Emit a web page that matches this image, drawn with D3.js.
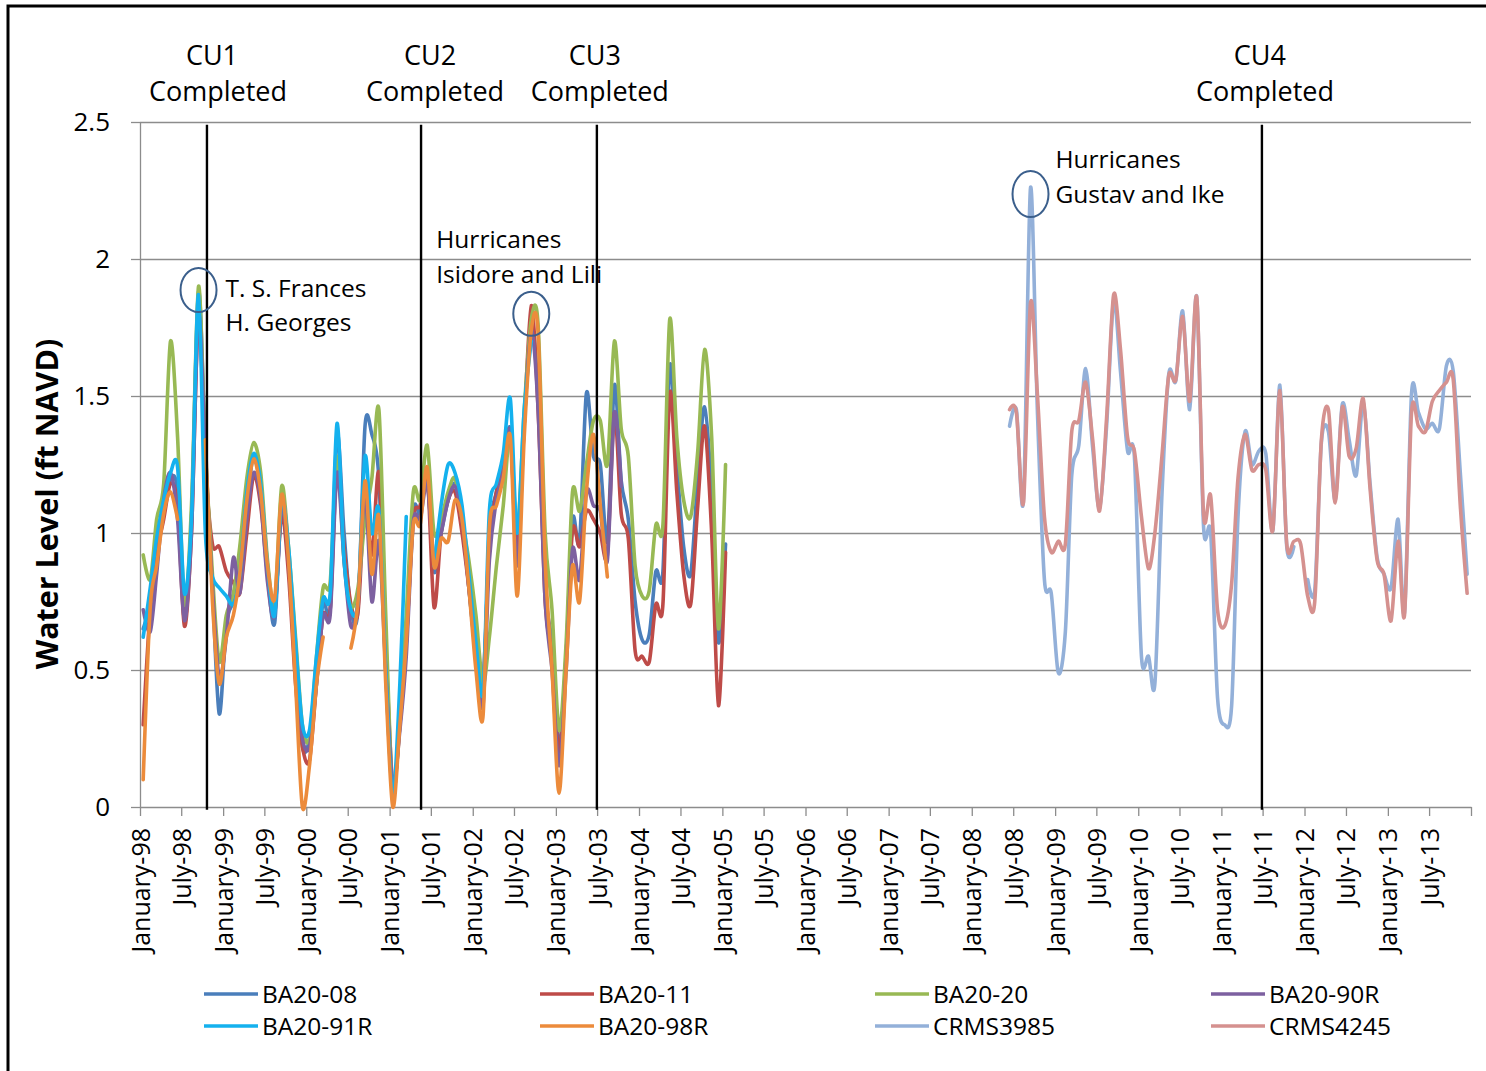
<!DOCTYPE html>
<html>
<head>
<meta charset="utf-8">
<script src="https://cdn.jsdelivr.net/npm/d3@7"></script>
<style>
  body { margin: 0; background: #ffffff; }
  text { font-family: "Open Sans", "DejaVu Sans", sans-serif; fill: #000; }
</style>
</head>
<body>
<svg id="chart" width="1486" height="1071"></svg>
<script>
// Monthly mean water levels (ft NAVD), plotted at mid-month.
const baMonths = [
  "1998-01","1998-02","1998-03","1998-04","1998-05","1998-06","1998-07","1998-08","1998-09","1998-10","1998-11","1998-12",
  "1999-01","1999-02","1999-03","1999-04","1999-05","1999-06","1999-07","1999-08","1999-09","1999-10","1999-11","1999-12",
  "2000-01","2000-02","2000-03","2000-04","2000-05","2000-06","2000-07","2000-08","2000-09","2000-10","2000-11","2000-12",
  "2001-01","2001-02","2001-03","2001-04","2001-05","2001-06","2001-07","2001-08","2001-09","2001-10","2001-11","2001-12",
  "2002-01","2002-02","2002-03","2002-04","2002-05","2002-06","2002-07","2002-08","2002-09","2002-10","2002-11","2002-12",
  "2003-01","2003-02","2003-03","2003-04","2003-05","2003-06","2003-07","2003-08","2003-09","2003-10","2003-11","2003-12",
  "2004-01","2004-02","2004-03","2004-04","2004-05","2004-06","2004-07","2004-08","2004-09","2004-10","2004-11","2004-12",
  "2005-01"
];
const crmsMonths = [
  "2008-06","2008-07","2008-08","2008-09","2008-10","2008-11","2008-12",
  "2009-01","2009-02","2009-03","2009-04","2009-05","2009-06","2009-07","2009-08","2009-09","2009-10","2009-11","2009-12",
  "2010-01","2010-02","2010-03","2010-04","2010-05","2010-06","2010-07","2010-08","2010-09","2010-10","2010-11","2010-12",
  "2011-01","2011-02","2011-03","2011-04","2011-05","2011-06","2011-07","2011-08","2011-09","2011-10","2011-11","2011-12",
  "2012-01","2012-02","2012-03","2012-04","2012-05","2012-06","2012-07","2012-08","2012-09","2012-10","2012-11","2012-12",
  "2013-01","2013-02","2013-03","2013-04","2013-05","2013-06","2013-07","2013-08","2013-09","2013-10","2013-11","2013-12"
];

const ba20_08 = [
  0.65,0.75,0.95,1.08,1.20,1.15,0.68,1.05,1.88,1.30,0.80,0.34,
  0.67,0.75,0.85,1.10,1.28,1.15,0.85,0.67,1.10,0.90,0.55,0.22,
  0.25,0.50,0.75,0.72,1.36,1.00,0.72,0.72,1.39,1.36,1.20,0.50,
  0.05,0.30,0.60,1.08,1.07,1.20,0.86,1.00,1.12,1.18,1.05,0.80,
  0.55,0.40,1.00,1.15,1.25,1.38,0.97,1.40,1.76,1.50,0.80,0.60,
  0.22,0.55,1.05,0.97,1.51,1.28,1.25,0.97,1.54,1.19,1.05,0.75,
  0.61,0.63,0.86,0.86,1.61,1.25,0.95,0.85,1.20,1.46,1.15,0.60,
  0.96
];
const ba20_11 = [
  0.30,0.72,0.92,1.05,1.18,1.10,0.66,1.00,1.80,1.25,0.96,0.95,
  0.86,0.82,0.78,1.00,1.21,1.10,0.85,0.72,1.07,0.85,0.45,0.22,
  0.17,0.45,0.70,0.72,1.25,0.95,0.74,0.71,1.12,0.92,1.22,0.60,
  0.08,0.30,0.60,1.05,1.10,1.22,0.73,1.00,1.12,1.15,1.00,0.80,
  0.58,0.46,0.95,1.15,1.25,1.37,0.92,1.40,1.83,1.45,0.75,0.55,
  0.20,0.55,1.01,0.95,1.08,1.05,1.00,0.92,1.44,1.07,0.98,0.57,
  0.55,0.53,0.74,0.74,1.51,1.15,0.85,0.74,1.10,1.39,1.00,0.37,
  0.93
];
const ba20_20 = [
  0.92,0.83,1.05,1.18,1.70,1.35,0.74,1.10,1.90,1.30,0.85,0.53,
  0.70,0.78,0.95,1.20,1.33,1.22,0.90,0.74,1.17,0.95,0.62,0.30,
  0.25,0.55,0.80,0.82,1.28,0.90,0.73,0.80,1.05,1.20,1.45,0.70,
  0.05,0.35,0.70,1.15,1.12,1.32,1.00,1.05,1.15,1.20,1.05,0.90,
  0.70,0.45,0.62,0.88,1.10,1.36,1.00,1.45,1.78,1.76,1.00,0.72,
  0.28,0.60,1.15,1.08,1.25,1.41,1.41,1.25,1.70,1.38,1.28,0.88,
  0.77,0.79,1.03,1.03,1.78,1.35,1.12,1.06,1.30,1.67,1.35,0.65,
  1.25
];
const ba20_90r = [
  0.72,0.64,0.85,1.12,1.22,1.05,0.68,1.00,1.80,1.28,0.80,0.47,
  0.62,0.91,0.78,1.05,1.22,1.12,0.82,0.70,1.10,0.90,0.50,0.25,
  0.22,0.45,0.70,0.70,1.22,0.90,0.66,0.75,1.15,0.75,0.97,0.50,
  0.08,0.28,0.55,1.04,1.05,1.18,0.90,1.00,1.12,1.17,1.05,0.80,
  0.55,0.37,0.90,1.12,1.22,1.37,0.88,1.40,1.74,1.45,0.75,0.50,
  0.15,0.50,0.94,0.83,1.15,1.10,1.08,0.90,1.44,1.17,null,null,
  null,null,null,null,null,null,null,null,null,null,null,null,
  null
];
const ba20_91r = [
  0.62,0.80,0.98,1.12,1.22,1.24,0.78,1.05,1.87,1.00,0.84,0.80,
  0.77,0.74,0.85,1.15,1.29,1.18,0.88,0.70,1.12,0.95,0.60,0.30,
  0.28,0.55,0.76,0.78,1.40,0.90,0.72,0.75,1.28,1.00,1.08,0.50,
  0.04,0.45,1.06,null,null,null,0.88,1.10,1.25,1.22,1.10,0.85,
  0.60,0.42,1.08,1.18,1.29,1.49,1.00,1.45,1.70,null,null,null,
  null,null,null,null,null,null,null,null,null,null,null,null,
  null,null,null,null,null,null,null,null,null,null,null,null,
  null
];
const ba20_98r = [
  0.10,0.73,0.88,1.07,1.15,1.05,null,null,null,1.34,0.75,0.45,
  0.62,0.70,0.85,1.12,1.27,1.15,0.88,0.76,1.14,0.90,0.45,0.00,
  0.15,0.45,0.62,null,null,null,0.58,0.75,1.19,0.85,1.06,0.45,
  0.00,0.30,0.60,1.03,1.03,1.24,0.88,0.98,0.97,1.12,1.05,0.80,
  0.50,0.33,1.02,1.10,1.20,1.35,0.77,1.35,1.74,1.73,0.90,0.50,
  0.05,0.50,0.88,0.75,1.15,1.36,1.10,0.84,null,null,null,null,
  null,null,null,null,null,null,null,null,null,null,null,null,
  null
];
const crms3985 = [
  1.39,1.45,1.12,2.26,1.45,0.83,0.78,
  0.49,0.64,1.21,1.32,1.60,1.31,1.09,1.39,1.85,1.59,1.30,1.28,
  0.55,0.55,0.45,1.14,1.58,1.555,1.81,1.45,1.86,1.02,1.00,0.40,
  0.30,0.37,1.06,1.37,1.25,1.30,1.29,1.01,1.54,0.95,0.95,null,
  0.83,0.79,1.33,1.37,1.12,1.47,1.34,1.21,1.48,1.18,0.91,0.85,
  0.80,1.05,0.71,1.51,1.44,1.38,1.40,1.38,1.61,1.59,1.22,0.85
];
const crms4245 = [
  1.45,1.44,1.11,1.84,1.51,1.06,0.93,
  0.97,0.96,1.37,1.41,1.55,1.34,1.08,1.42,1.87,1.67,1.35,1.30,
  1.06,0.87,1.00,1.28,1.575,1.56,1.79,1.48,1.86,1.065,1.135,0.72,
  0.66,0.815,1.20,1.36,1.23,1.25,1.23,1.01,1.52,0.96,0.97,0.96,
  0.77,0.75,1.34,1.45,1.11,1.46,1.28,1.31,1.49,1.16,0.90,0.85,
  0.68,0.97,0.70,1.44,1.39,1.37,1.48,1.52,1.55,1.56,1.10,0.78
];

const seriesNames  = ["BA20-08","BA20-11","BA20-20","BA20-90R","BA20-91R","BA20-98R","CRMS3985","CRMS4245"];
const seriesColors = ["#4a7ebb","#be4b48","#98b954","#7d60a0","#14b1ee","#ec8b3b","#93b0d9","#d5918f"];

// Construction unit completion dates
const cuLabels = ["CU1","CU2","CU3","CU4"];
const cuDates  = ["1998-10-22","2001-05-19","2003-06-30","2011-06-28"];

// Storm events marked on the record
const stormDates  = ["1998-09-15","2002-09-15","2008-09-15"];
const stormLevels = [1.887, 1.80, 2.237];
const stormLines  = [["T. S. Frances","H. Georges"],["Hurricanes","Isidore and Lili"],["Hurricanes","Gustav and Ike"]];

const yTicks = [0, 0.5, 1, 1.5, 2, 2.5];

// ---- layout ----
const svg = d3.select("#chart");
const plot = { left: 140, right: 1471, top: 122, bottom: 807 };
const monthParse = d3.utcParse("%Y-%m");
const dayParse = d3.utcParse("%Y-%m-%d");
const midMonth = s => d3.utcDay.offset(monthParse(s), 14);

const x = d3.scaleUtc()
  .domain([dayParse("1998-01-01"), dayParse("2014-01-01")])
  .range([plot.left, plot.right]);
const y = d3.scaleLinear().domain([0, 2.5]).range([plot.bottom, plot.top]);

// outer frame
svg.append("rect")
  .attr("x", 8).attr("y", 6).attr("width", 1500).attr("height", 1100)
  .attr("fill", "none").attr("stroke", "#000").attr("stroke-width", 3);

const gridColor = "#8c8c8c";

// horizontal gridlines
svg.append("g")
  .attr("transform", `translate(${plot.left},0)`)
  .call(d3.axisLeft(y).tickValues(yTicks.slice(1)).tickSize(-(plot.right - plot.left)).tickFormat(""))
  .call(g => g.select(".domain").remove())
  .call(g => g.selectAll("line").attr("stroke", gridColor).attr("stroke-width", 1.3));

// y axis
svg.append("g")
  .attr("transform", `translate(${plot.left},0)`)
  .call(d3.axisLeft(y).tickValues(yTicks).tickSize(9).tickSizeOuter(0).tickPadding(21)
    .tickFormat(d => String(d)))
  .call(g => g.select(".domain").attr("stroke", gridColor).attr("stroke-width", 1.3))
  .call(g => g.selectAll("line").attr("stroke", gridColor).attr("stroke-width", 1.3))
  .call(g => g.selectAll("text").attr("font-size", 26).attr("font-family", "Open Sans").attr("fill", "#000"));

// x axis: ticks every six months
const xTickDates = d3.utcMonth.every(6).range(dayParse("1998-01-01"), dayParse("2014-01-02"));
const monthFmt = d3.utcFormat("%B-%y");
svg.append("g")
  .attr("transform", `translate(0,${plot.bottom})`)
  .call(d3.axisBottom(x).tickValues(xTickDates).tickSize(9).tickSizeOuter(0)
    .tickFormat(d => d.getUTCFullYear() < 2014 ? monthFmt(d) : ""))
  .call(g => g.select(".domain").attr("stroke", gridColor).attr("stroke-width", 1.3))
  .call(g => g.selectAll("line").attr("stroke", gridColor).attr("stroke-width", 1.3))
  .call(g => g.selectAll("text")
    .attr("font-size", 25).attr("font-family", "Open Sans").attr("fill", "#000")
    .attr("transform", "rotate(-90)").attr("text-anchor", "end")
    .attr("x", -21).attr("y", 0).attr("dy", "0.36em"));

// y title
svg.append("text")
  .attr("transform", "translate(58,504) rotate(-90)")
  .attr("text-anchor", "middle")
  .attr("font-size", 30.5).attr("font-weight", "bold")
  .text("Water Level (ft NAVD)");

// ---- series ----
const baSeries  = [ba20_08, ba20_11, ba20_20, ba20_90r, ba20_91r, ba20_98r];
const crmsSeries = [crms3985, crms4245];
const allSeries = [
  ...baSeries.map(vals => vals.map((v, i) => ({ date: midMonth(baMonths[i]), v }))),
  ...crmsSeries.map(vals => vals.map((v, i) => ({ date: midMonth(crmsMonths[i]), v })))
];

const line = d3.line()
  .defined(d => d.v != null)
  .x(d => x(d.date))
  .y(d => y(d.v))
  .curve(d3.curveCardinal.tension(0.1));

svg.append("g").selectAll("path")
  .data(allSeries)
  .join("path")
  .attr("d", line)
  .attr("fill", "none")
  .attr("stroke", (d, i) => seriesColors[i])
  .attr("stroke-width", 3.6)
  .attr("stroke-linejoin", "round")
  .attr("stroke-linecap", "round");

// ---- construction completion markers ----
const cuLabelOffsets = [[5, 11], [9, 14], [-2, 3], [-2, 3]];
cuDates.forEach((ds, i) => {
  const cx = x(dayParse(ds));
  svg.append("line")
    .attr("x1", cx).attr("x2", cx)
    .attr("y1", y(2.49)).attr("y2", y(-0.01))
    .attr("stroke", "#000").attr("stroke-width", 2.4);
  svg.append("text").attr("x", cx + cuLabelOffsets[i][0]).attr("y", 65)
    .attr("text-anchor", "middle").attr("font-size", 27).text(cuLabels[i]);
  svg.append("text").attr("x", cx + cuLabelOffsets[i][1]).attr("y", 101)
    .attr("text-anchor", "middle").attr("font-size", 27).text("Completed");
});

// ---- storm annotations ----
const stormText = [[27, 297, 331], [-95, 248, 283], [25, 168, 203]];
stormDates.forEach((ds, i) => {
  const cx = x(dayParse(ds)), cy = y(stormLevels[i]);
  svg.append("ellipse")
    .attr("cx", cx).attr("cy", cy).attr("rx", 18).attr("ry", i === 2 ? 23 : 22)
    .attr("fill", "none").attr("stroke", "#3b5f8c").attr("stroke-width", 2);
  const [dx, y1, y2] = stormText[i];
  svg.append("text").attr("x", cx + dx).attr("y", y1).attr("font-size", 24.5).text(stormLines[i][0]);
  svg.append("text").attr("x", cx + dx).attr("y", y2).attr("font-size", 24.5).text(stormLines[i][1]);
});

// ---- legend ----
const legendCols = [204, 540, 875, 1211];
const legendRows = [994, 1026];
const legend = svg.append("g");
seriesNames.forEach((name, i) => {
  const lx = legendCols[i % 4], ly = legendRows[Math.floor(i / 4)];
  legend.append("line")
    .attr("x1", lx).attr("x2", lx + 54).attr("y1", ly).attr("y2", ly)
    .attr("stroke", seriesColors[i]).attr("stroke-width", 3.6);
  legend.append("text")
    .attr("x", lx + 58).attr("y", ly + 9)
    .attr("font-size", 24.5).text(name);
});
</script>
</body>
</html>
